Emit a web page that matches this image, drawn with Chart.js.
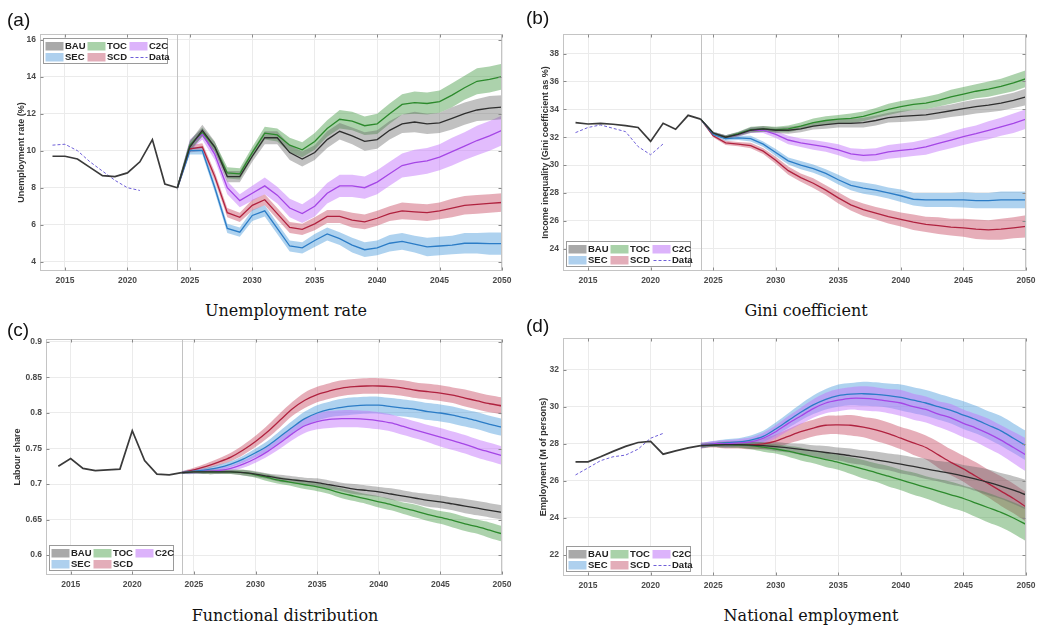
<!DOCTYPE html>
<html><head><meta charset="utf-8">
<script src="https://cdn.jsdelivr.net/npm/chart.js@4.4.1/dist/chart.umd.min.js"></script>
<style>
html,body{margin:0;padding:0;background:#fff;}
body{width:1042px;height:628px;position:relative;overflow:hidden;}
canvas{position:absolute;}
.lbl{position:absolute;font-family:"Liberation Sans",Arial,sans-serif;font-size:19px;color:#111;line-height:1;}
.ttl{position:absolute;font-family:"DejaVu Serif",serif;font-size:16px;color:#111;white-space:nowrap;transform:translateX(-50%);line-height:1;}
</style></head><body>
<canvas id="ca" width="520" height="265" style="left:0;top:25px"></canvas>
<canvas id="cb" width="522" height="265" style="left:520px;top:25px"></canvas>
<canvas id="cc" width="520" height="265" style="left:0;top:330px"></canvas>
<canvas id="cd" width="522" height="266" style="left:520px;top:329px"></canvas>
<div class="lbl" style="left:7px;top:10px">(a)</div>
<div class="lbl" style="left:526px;top:8px">(b)</div>
<div class="lbl" style="left:7px;top:320px">(c)</div>
<div class="lbl" style="left:526px;top:316px">(d)</div>
<div class="ttl" style="left:286px;top:303px">Unemployment rate</div>
<div class="ttl" style="left:806px;top:303px">Gini coefficient</div>
<div class="ttl" style="left:285px;top:608px">Functional distribution</div>
<div class="ttl" style="left:811px;top:608px">National employment</div>
<script>
// ---------- data ----------
const X_TICKS = [2015, 2020, 2025, 2030, 2035, 2040, 2045, 2050];
const YEARS_HIST = [2014, 2015, 2016, 2017, 2018, 2019, 2020, 2021, 2022, 2023, 2024];
const YEARS_DATA = [2014, 2015, 2016, 2017, 2018, 2019, 2020, 2021];
const YEARS_PROJ = [2024, 2025, 2026, 2027, 2028, 2029, 2030, 2031, 2032, 2033, 2034, 2035, 2036, 2037,
  2038, 2039, 2040, 2041, 2042, 2043, 2044, 2045, 2046, 2047, 2048, 2049, 2050];
const LEGEND_FULL = ['BAU', 'TOC', 'C2C', 'SEC', 'SCD', 'Data'];
const LEGEND_NO_DATA = ['BAU', 'TOC', 'C2C', 'SEC', 'SCD'];

// (a) unemployment rate (%)
const unempTicks = [4, 6, 8, 10, 12, 14, 16];
const unempHist = [9.7, 9.7, 9.55, 9.1, 8.65, 8.6, 8.8, 9.4, 10.6, 8.2, 8.0];
const unempData = [10.3, 10.35, 10.0, 9.4, 8.9, 8.4, 8.0, 7.85];
const unempBAU = [8.0, 10.2, 11.1, 10.2, 8.6, 8.6, 9.7, 10.7, 10.7, 9.9, 9.55, 9.9, 10.6, 11.05, 10.8, 10.5, 10.6, 11.1, 11.45, 11.55, 11.45, 11.5, 11.75, 12.0, 12.2, 12.3, 12.35];
const unempTOC = [8.0, 10.3, 11.0, 10.2, 8.8, 8.75, 9.9, 10.95, 10.85, 10.3, 10.05, 10.5, 11.2, 11.7, 11.6, 11.35, 11.45, 12.0, 12.5, 12.6, 12.55, 12.65, 13.0, 13.4, 13.75, 13.85, 14.0];
const unempC2C = [8.0, 10.3, 10.9, 9.8, 8.0, 7.3, 7.7, 8.1, 7.6, 6.9, 6.6, 7.0, 7.7, 8.1, 8.1, 8.0, 8.3, 8.75, 9.2, 9.35, 9.45, 9.65, 9.95, 10.25, 10.55, 10.8, 11.1];
const unempSEC = [8.0, 10.0, 10.0, 8.0, 5.8, 5.6, 6.5, 6.75, 5.8, 4.85, 4.75, 5.15, 5.5, 5.25, 4.9, 4.65, 4.75, 5.0, 5.1, 4.95, 4.8, 4.85, 4.9, 5.0, 5.0, 4.98, 4.98];
const unempSCD = [8.0, 10.1, 10.2, 8.6, 6.65, 6.4, 7.05, 7.35, 6.6, 5.85, 5.75, 6.05, 6.45, 6.45, 6.25, 6.15, 6.35, 6.6, 6.75, 6.7, 6.65, 6.75, 6.9, 7.05, 7.1, 7.15, 7.2];
const unempBAUspread = [0.15, 0.3, 0.3, 0.3, 0.3, 0.3, 0.3, 0.35, 0.35, 0.4, 0.4, 0.4, 0.45, 0.45, 0.45, 0.5, 0.5, 0.5, 0.5, 0.55, 0.55, 0.55, 0.6, 0.6, 0.6, 0.65, 0.65];
const unempTOCspread = [0.15, 0.25, 0.25, 0.25, 0.3, 0.3, 0.3, 0.35, 0.35, 0.4, 0.4, 0.45, 0.45, 0.5, 0.5, 0.5, 0.55, 0.55, 0.55, 0.6, 0.6, 0.6, 0.65, 0.65, 0.7, 0.7, 0.7];
const unempC2Cspread = [0.15, 0.3, 0.3, 0.3, 0.35, 0.35, 0.4, 0.45, 0.45, 0.5, 0.5, 0.55, 0.55, 0.6, 0.6, 0.6, 0.65, 0.65, 0.65, 0.7, 0.7, 0.7, 0.75, 0.75, 0.8, 0.8, 0.8];
const unempSECspread = [0.15, 0.2, 0.2, 0.25, 0.25, 0.25, 0.3, 0.3, 0.3, 0.3, 0.3, 0.35, 0.35, 0.35, 0.4, 0.4, 0.4, 0.45, 0.45, 0.45, 0.5, 0.5, 0.5, 0.55, 0.55, 0.6, 0.6];
const unempSCDspread = [0.15, 0.2, 0.2, 0.25, 0.25, 0.25, 0.3, 0.3, 0.3, 0.3, 0.3, 0.35, 0.35, 0.35, 0.4, 0.4, 0.4, 0.4, 0.45, 0.45, 0.45, 0.45, 0.5, 0.5, 0.5, 0.5, 0.5];

// (b) Gini coefficient (%)
const giniTicks = [24, 26, 28, 30, 32, 34, 36, 38];
const giniHist = [33.05, 32.95, 33.0, 32.93, 32.83, 32.7, 31.7, 33.0, 32.57, 33.57, 33.3];
const giniData = [32.33, 32.7, 32.88, 32.64, 32.4, 31.33, 30.74, 31.52];
const giniBAU = [33.3, 32.3, 32.0, 32.2, 32.5, 32.6, 32.5, 32.5, 32.6, 32.8, 32.9, 33.0, 33.0, 33.05, 33.2, 33.4, 33.5, 33.55, 33.6, 33.75, 33.9, 34.05, 34.2, 34.3, 34.45, 34.65, 34.9];
const giniTOC = [33.3, 32.3, 32.0, 32.25, 32.55, 32.6, 32.55, 32.6, 32.8, 33.05, 33.2, 33.3, 33.35, 33.5, 33.75, 34.0, 34.2, 34.35, 34.45, 34.65, 34.9, 35.1, 35.3, 35.45, 35.65, 35.9, 36.2];
const giniC2C = [33.3, 32.3, 32.0, 32.2, 32.5, 32.5, 32.2, 31.8, 31.6, 31.45, 31.3, 31.1, 30.8, 30.7, 30.75, 30.95, 31.05, 31.15, 31.3, 31.55, 31.8, 32.05, 32.25, 32.5, 32.75, 33.0, 33.3];
const giniSEC = [33.3, 32.2, 31.9, 31.95, 31.9, 31.5, 30.9, 30.3, 30.0, 29.75, 29.4, 28.95, 28.55, 28.35, 28.2, 28.0, 27.8, 27.55, 27.5, 27.5, 27.5, 27.5, 27.45, 27.45, 27.5, 27.5, 27.5];
const giniSCD = [33.3, 32.1, 31.6, 31.5, 31.4, 31.0, 30.35, 29.6, 29.1, 28.7, 28.2, 27.65, 27.15, 26.8, 26.55, 26.3, 26.1, 25.9, 25.75, 25.65, 25.55, 25.5, 25.4, 25.35, 25.4, 25.5, 25.6];
const giniBAUspread = [0.05, 0.1, 0.15, 0.15, 0.2, 0.2, 0.2, 0.25, 0.25, 0.25, 0.3, 0.3, 0.3, 0.35, 0.35, 0.35, 0.4, 0.4, 0.4, 0.45, 0.45, 0.5, 0.5, 0.5, 0.55, 0.55, 0.6];
const giniTOCspread = [0.05, 0.1, 0.15, 0.15, 0.2, 0.2, 0.2, 0.25, 0.25, 0.3, 0.3, 0.3, 0.35, 0.35, 0.35, 0.4, 0.4, 0.4, 0.45, 0.45, 0.5, 0.5, 0.5, 0.55, 0.55, 0.6, 0.6];
const giniC2Cspread = [0.05, 0.1, 0.15, 0.15, 0.2, 0.2, 0.25, 0.3, 0.3, 0.35, 0.35, 0.4, 0.4, 0.45, 0.45, 0.5, 0.5, 0.5, 0.55, 0.55, 0.6, 0.6, 0.6, 0.65, 0.65, 0.7, 0.7];
const giniSECspread = [0.05, 0.1, 0.15, 0.15, 0.2, 0.2, 0.25, 0.25, 0.3, 0.3, 0.3, 0.35, 0.35, 0.4, 0.4, 0.4, 0.45, 0.45, 0.5, 0.5, 0.5, 0.55, 0.55, 0.55, 0.6, 0.6, 0.6];
const giniSCDspread = [0.05, 0.1, 0.15, 0.15, 0.2, 0.2, 0.25, 0.3, 0.3, 0.35, 0.35, 0.4, 0.4, 0.45, 0.45, 0.5, 0.5, 0.55, 0.55, 0.6, 0.6, 0.65, 0.7, 0.7, 0.75, 0.75, 0.8];

// (c) labour share
const labTicks = [0.6, 0.65, 0.7, 0.75, 0.8, 0.85, 0.9];
const labHist = [0.725, 0.736, 0.722, 0.719, 0.720, 0.721, 0.775, 0.733, 0.714, 0.713, 0.716];
const labBAU = [0.716, 0.717, 0.717, 0.717, 0.717, 0.716, 0.714, 0.711, 0.708, 0.706, 0.704, 0.702, 0.699, 0.696, 0.693, 0.691, 0.689, 0.686, 0.683, 0.680, 0.677, 0.675, 0.672, 0.669, 0.666, 0.663, 0.660];
const labTOC = [0.716, 0.717, 0.717, 0.717, 0.717, 0.716, 0.713, 0.709, 0.705, 0.702, 0.699, 0.696, 0.692, 0.687, 0.683, 0.679, 0.675, 0.671, 0.666, 0.662, 0.657, 0.653, 0.649, 0.644, 0.640, 0.635, 0.630];
const labC2C = [0.716, 0.717, 0.718, 0.719, 0.722, 0.728, 0.736, 0.746, 0.758, 0.771, 0.782, 0.788, 0.791, 0.792, 0.792, 0.791, 0.789, 0.786, 0.781, 0.776, 0.771, 0.766, 0.761, 0.756, 0.750, 0.745, 0.740];
const labSEC = [0.716, 0.718, 0.720, 0.723, 0.728, 0.735, 0.744, 0.754, 0.767, 0.780, 0.792, 0.800, 0.805, 0.808, 0.810, 0.811, 0.811, 0.809, 0.807, 0.805, 0.802, 0.800, 0.797, 0.793, 0.789, 0.784, 0.780];
const labSCD = [0.716, 0.720, 0.725, 0.731, 0.738, 0.748, 0.760, 0.774, 0.790, 0.806, 0.818, 0.826, 0.831, 0.835, 0.837, 0.838, 0.838, 0.837, 0.835, 0.832, 0.830, 0.828, 0.825, 0.821, 0.817, 0.813, 0.810];
const labBAUspread = [0.002, 0.002, 0.003, 0.003, 0.003, 0.004, 0.004, 0.004, 0.005, 0.005, 0.005, 0.006, 0.006, 0.006, 0.007, 0.007, 0.007, 0.008, 0.008, 0.008, 0.009, 0.009, 0.009, 0.010, 0.010, 0.010, 0.010];
const labTOCspread = [0.002, 0.002, 0.003, 0.003, 0.003, 0.004, 0.004, 0.005, 0.005, 0.005, 0.006, 0.006, 0.006, 0.007, 0.007, 0.007, 0.008, 0.008, 0.008, 0.009, 0.009, 0.009, 0.010, 0.010, 0.010, 0.011, 0.011];
const labC2Cspread = [0.002, 0.003, 0.003, 0.004, 0.004, 0.005, 0.006, 0.007, 0.008, 0.009, 0.010, 0.011, 0.012, 0.012, 0.012, 0.012, 0.012, 0.012, 0.012, 0.012, 0.012, 0.013, 0.013, 0.013, 0.013, 0.013, 0.013];
const labSECspread = [0.002, 0.003, 0.003, 0.004, 0.004, 0.005, 0.006, 0.007, 0.008, 0.009, 0.010, 0.011, 0.011, 0.012, 0.012, 0.012, 0.012, 0.012, 0.012, 0.012, 0.012, 0.012, 0.012, 0.012, 0.012, 0.012, 0.012];
const labSCDspread = [0.002, 0.003, 0.004, 0.005, 0.006, 0.007, 0.008, 0.009, 0.010, 0.010, 0.011, 0.011, 0.011, 0.011, 0.011, 0.011, 0.011, 0.011, 0.011, 0.011, 0.011, 0.011, 0.011, 0.012, 0.012, 0.012, 0.012];

// (d) national employment (M of persons)
const empTicks = [22, 24, 26, 28, 30, 32];
const empHist = [27.03, 27.03, 27.3, 27.59, 27.86, 28.07, 28.13, 27.44, 27.62, 27.78, 27.9];
const empData = [26.32, 26.7, 27.09, 27.3, 27.39, 27.71, 28.3, 28.56];
const empBAU = [27.9, 27.93, 27.95, 27.95, 27.93, 27.9, 27.85, 27.78, 27.7, 27.62, 27.53, 27.45, 27.35, 27.25, 27.13, 27.02, 26.9, 26.78, 26.65, 26.52, 26.4, 26.26, 26.1, 25.92, 25.72, 25.5, 25.25];
const empTOC = [27.9, 27.93, 27.95, 27.93, 27.9, 27.82, 27.72, 27.6, 27.45, 27.3, 27.15, 27.0, 26.82, 26.63, 26.45, 26.25, 26.05, 25.85, 25.65, 25.45, 25.25, 25.05, 24.8, 24.55, 24.3, 24.0, 23.65];
const empC2C = [27.9, 28.0, 28.0, 28.05, 28.1, 28.3, 28.65, 29.1, 29.5, 29.9, 30.2, 30.35, 30.45, 30.45, 30.4, 30.3, 30.2, 30.0, 29.85, 29.6, 29.4, 29.1, 28.85, 28.55, 28.2, 27.8, 27.4];
const empSEC = [27.9, 28.0, 28.05, 28.1, 28.2, 28.4, 28.8, 29.25, 29.7, 30.1, 30.4, 30.6, 30.68, 30.7, 30.67, 30.6, 30.5, 30.35, 30.2, 30.0, 29.8, 29.55, 29.3, 29.0, 28.7, 28.3, 27.9];
const empSCD = [27.9, 27.95, 27.95, 27.95, 27.95, 28.0, 28.15, 28.4, 28.65, 28.85, 29.0, 29.02, 29.0, 28.9, 28.75, 28.55, 28.3, 28.05, 27.8, 27.4, 27.0, 26.65, 26.25, 25.85, 25.45, 25.05, 24.6];
const empBAUspread = [0.1, 0.1, 0.15, 0.15, 0.2, 0.2, 0.25, 0.25, 0.3, 0.3, 0.35, 0.35, 0.4, 0.4, 0.45, 0.45, 0.5, 0.5, 0.55, 0.55, 0.6, 0.6, 0.65, 0.7, 0.7, 0.75, 0.8];
const empTOCspread = [0.1, 0.1, 0.15, 0.15, 0.2, 0.25, 0.25, 0.3, 0.35, 0.35, 0.4, 0.4, 0.45, 0.5, 0.5, 0.55, 0.55, 0.6, 0.6, 0.65, 0.7, 0.7, 0.75, 0.8, 0.8, 0.85, 0.9];
const empC2Cspread = [0.15, 0.15, 0.2, 0.2, 0.25, 0.3, 0.35, 0.4, 0.45, 0.5, 0.55, 0.6, 0.6, 0.65, 0.65, 0.65, 0.7, 0.7, 0.7, 0.7, 0.75, 0.75, 0.75, 0.8, 0.8, 0.85, 0.9];
const empSECspread = [0.15, 0.15, 0.2, 0.2, 0.25, 0.3, 0.35, 0.4, 0.45, 0.5, 0.55, 0.6, 0.6, 0.65, 0.65, 0.65, 0.7, 0.7, 0.7, 0.7, 0.7, 0.75, 0.75, 0.75, 0.8, 0.8, 0.8];
const empSCDspread = [0.15, 0.15, 0.2, 0.2, 0.25, 0.3, 0.35, 0.4, 0.45, 0.45, 0.5, 0.5, 0.55, 0.55, 0.6, 0.6, 0.6, 0.65, 0.65, 0.7, 0.7, 0.7, 0.75, 0.75, 0.8, 0.8, 0.8];

// ---------- styles ----------
const LINE = {BAU: '#2e2e2e', TOC: '#2c8a2c', C2C: '#a546e6', SEC: '#2b7cc6', SCD: '#b0223f', Data: '#6e5fd8', HIST: '#3a3a3a'};
const BAND = {BAU: 'rgba(100,100,100,0.40)', TOC: 'rgba(70,155,70,0.45)', C2C: 'rgba(195,115,250,0.48)',
              SEC: 'rgba(75,155,220,0.45)', SCD: 'rgba(200,75,100,0.45)'};
const SWATCH = {BAU: '#a9a9a9', TOC: '#a9d2a9', C2C: '#dcb3fb', SEC: '#aed0ee', SCD: '#e3adb9'};
const TICK_FONT = {family: '"Liberation Sans", Arial, sans-serif', size: 8.5, weight: 'bold'};
const TICK_COLOR = '#4a4a4a';

function pts(xs, ys, spread, sign) {
  return xs.map((x, i) => ({x: x, y: ys[i] + (spread ? sign * spread[i] : 0)}));
}

const framePlugin = {
  id: 'frame',
  beforeDatasetsDraw(chart, args, opts) {
    const {ctx, chartArea: a, scales: {x}} = chart;
    const px = Math.round(x.getPixelForValue(opts.divider)) + 0.5;
    ctx.save();
    ctx.strokeStyle = '#c2c2c2'; ctx.lineWidth = 1;
    ctx.beginPath(); ctx.moveTo(px, a.top); ctx.lineTo(px, a.bottom); ctx.stroke();
    ctx.restore();
  },
  afterDatasetsDraw(chart) {
    const {ctx, chartArea: a, scales: {x, y}} = chart;
    ctx.save();
    ctx.strokeStyle = '#c4c4c4'; ctx.lineWidth = 1;
    const L = Math.round(a.left) + 0.5, R = Math.round(a.right) - 0.5, T = Math.round(a.top) + 0.5, B = Math.round(a.bottom) - 0.5;
    ctx.strokeRect(L, T, R - L, B - T);
    ctx.strokeStyle = '#8a8a8a';
    ctx.beginPath();
    x.ticks.forEach(t => { const p = Math.round(x.getPixelForValue(t.value)) + 0.5; ctx.moveTo(p, B); ctx.lineTo(p, B - 3); ctx.moveTo(p, T); ctx.lineTo(p, T + 3); });
    y.ticks.forEach(t => { const p = Math.round(y.getPixelForValue(t.value)) + 0.5; ctx.moveTo(L, p); ctx.lineTo(L + 3, p); ctx.moveTo(R, p); ctx.lineTo(R - 3, p); });
    ctx.stroke();
    ctx.restore();
  }
};

const boxLegend = {
  id: 'boxLegend',
  afterDatasetsDraw(chart, args, opts) {
    const {ctx, chartArea: a} = chart;
    const W = 124, H = 25;
    const x0 = Math.round(a.left) + 3.5;
    const y0 = opts.pos === 'top' ? Math.round(a.top) + 4.5 : Math.round(a.bottom) - 4.5 - H;
    ctx.save();
    ctx.fillStyle = '#ffffff'; ctx.fillRect(x0, y0, W, H);
    ctx.strokeStyle = '#9a9a9a'; ctx.lineWidth = 1; ctx.strokeRect(x0, y0, W, H);
    ctx.font = 'bold 9.5px "Liberation Sans", Arial, sans-serif';
    ctx.textBaseline = 'middle'; ctx.fillStyle = '#222';
    opts.entries.forEach((name, i) => {
      const col = i % 3, row = Math.floor(i / 3);
      const sx = x0 + 2 + col * 42, sy = y0 + 3.5 + row * 11;
      if (name === 'Data') {
        ctx.save(); ctx.strokeStyle = LINE.Data; ctx.setLineDash([3, 2]); ctx.lineWidth = 1;
        ctx.beginPath(); ctx.moveTo(sx + 1, sy + 4.5); ctx.lineTo(sx + 18, sy + 4.5); ctx.stroke(); ctx.restore();
      } else {
        ctx.fillStyle = SWATCH[name]; ctx.fillRect(sx, sy, 18, 8.5); ctx.fillStyle = '#222';
      }
      ctx.fillText(name, sx + 19.5, sy + 4.8);
    });
    ctx.restore();
  }
};

function makePanel(id, p) {
  const ds = [];
  p.series.forEach(s => {
    ds.push({data: pts(YEARS_PROJ, s.values, s.spread, -1), borderWidth: 0, pointRadius: 0, fill: false, order: 2, tension: p.tension});
    ds.push({data: pts(YEARS_PROJ, s.values, s.spread, 1), borderWidth: 0, pointRadius: 0, fill: '-1',
             backgroundColor: BAND[s.name], order: 2, tension: p.tension});
  });
  p.series.forEach(s => {
    ds.push({data: pts(YEARS_PROJ, s.values), borderColor: LINE[s.name], borderWidth: 1.3, pointRadius: 0, fill: false, order: 1, tension: p.tension});
  });
  ds.push({data: pts(YEARS_HIST, p.hist), borderColor: LINE.HIST, borderWidth: 1.7, pointRadius: 0, fill: false, order: 0});
  if (p.data) ds.push({data: pts(YEARS_DATA, p.data), borderColor: LINE.Data, borderWidth: 1, borderDash: [3, 2], pointRadius: 0, fill: false, order: 0});

  new Chart(document.getElementById(id), {
    type: 'line',
    data: {datasets: ds},
    plugins: [framePlugin, boxLegend],
    options: {
      responsive: false, animation: false, devicePixelRatio: 1,
      layout: {padding: {left: p.padL, right: p.padR, top: 8, bottom: 0}},
      plugins: {legend: {display: false}, tooltip: {enabled: false},
        frame: {divider: 2024}, boxLegend: {pos: p.legendPos, entries: p.legend}},
      scales: {
        x: {type: 'linear', min: 2013, max: 2050,
          afterBuildTicks: s => { s.ticks = X_TICKS.map(v => ({value: v})); },
          afterFit: s => { s.height = p.xH; },
          grid: {color: '#ebebeb', drawTicks: false}, border: {display: false},
          ticks: {font: TICK_FONT, color: TICK_COLOR, padding: 5, maxRotation: 0, autoSkip: false, callback: v => String(v)}},
        y: {type: 'linear', min: p.yMin, max: p.yMax,
          afterBuildTicks: s => { s.ticks = p.yTicks.map(v => ({value: v})); },
          afterFit: s => { s.width = p.yW; },
          grid: {color: '#ebebeb', drawTicks: false}, border: {display: false},
          ticks: {font: TICK_FONT, color: TICK_COLOR, padding: 4, autoSkip: false, callback: v => String(+v.toFixed(2))},
          title: {display: true, text: p.yTitle, color: '#333',
            font: {family: '"Liberation Sans", Arial, sans-serif', size: 9, weight: 'bold'}, padding: {top: 4, bottom: 0}}}
      }
    }
  });
}

makePanel('ca', {
  hist: unempHist, data: unempData, yTicks: unempTicks, yMin: 3.5, yMax: 16.3,
  yTitle: 'Unemployment rate (%)', legendPos: 'top', legend: LEGEND_FULL,
  padL: 12, padR: 18, yW: 28, xH: 19, tension: 0,
  series: [
    {name: 'BAU', values: unempBAU, spread: unempBAUspread},
    {name: 'TOC', values: unempTOC, spread: unempTOCspread},
    {name: 'C2C', values: unempC2C, spread: unempC2Cspread},
    {name: 'SEC', values: unempSEC, spread: unempSECspread},
    {name: 'SCD', values: unempSCD, spread: unempSCDspread}]
});
makePanel('cb', {
  hist: giniHist, data: giniData, yTicks: giniTicks, yMin: 22.4, yMax: 39.4,
  yTitle: 'Income inequality (Gini coefficient as %)', legendPos: 'bottom', legend: LEGEND_FULL,
  padL: 16, padR: 16, yW: 27, xH: 19, tension: 0,
  series: [
    {name: 'BAU', values: giniBAU, spread: giniBAUspread},
    {name: 'TOC', values: giniTOC, spread: giniTOCspread},
    {name: 'C2C', values: giniC2C, spread: giniC2Cspread},
    {name: 'SEC', values: giniSEC, spread: giniSECspread},
    {name: 'SCD', values: giniSCD, spread: giniSCDspread}]
});
makePanel('cc', {
  hist: labHist, data: null, yTicks: labTicks, yMin: 0.572, yMax: 0.904,
  yTitle: 'Labour share', legendPos: 'bottom', legend: LEGEND_NO_DATA,
  padL: 8, padR: 18, yW: 38, xH: 20, tension: 0.3,
  series: [
    {name: 'BAU', values: labBAU, spread: labBAUspread},
    {name: 'TOC', values: labTOC, spread: labTOCspread},
    {name: 'C2C', values: labC2C, spread: labC2Cspread},
    {name: 'SEC', values: labSEC, spread: labSECspread},
    {name: 'SCD', values: labSCD, spread: labSCDspread}]
});
makePanel('cd', {
  hist: empHist, data: empData, yTicks: empTicks, yMin: 20.87, yMax: 33.7,
  yTitle: 'Employment (M of persons)', legendPos: 'bottom', legend: LEGEND_FULL,
  padL: 14, padR: 16, yW: 29, xH: 19, tension: 0.3,
  series: [
    {name: 'BAU', values: empBAU, spread: empBAUspread},
    {name: 'TOC', values: empTOC, spread: empTOCspread},
    {name: 'C2C', values: empC2C, spread: empC2Cspread},
    {name: 'SEC', values: empSEC, spread: empSECspread},
    {name: 'SCD', values: empSCD, spread: empSCDspread}]
});
</script>
</body></html>
